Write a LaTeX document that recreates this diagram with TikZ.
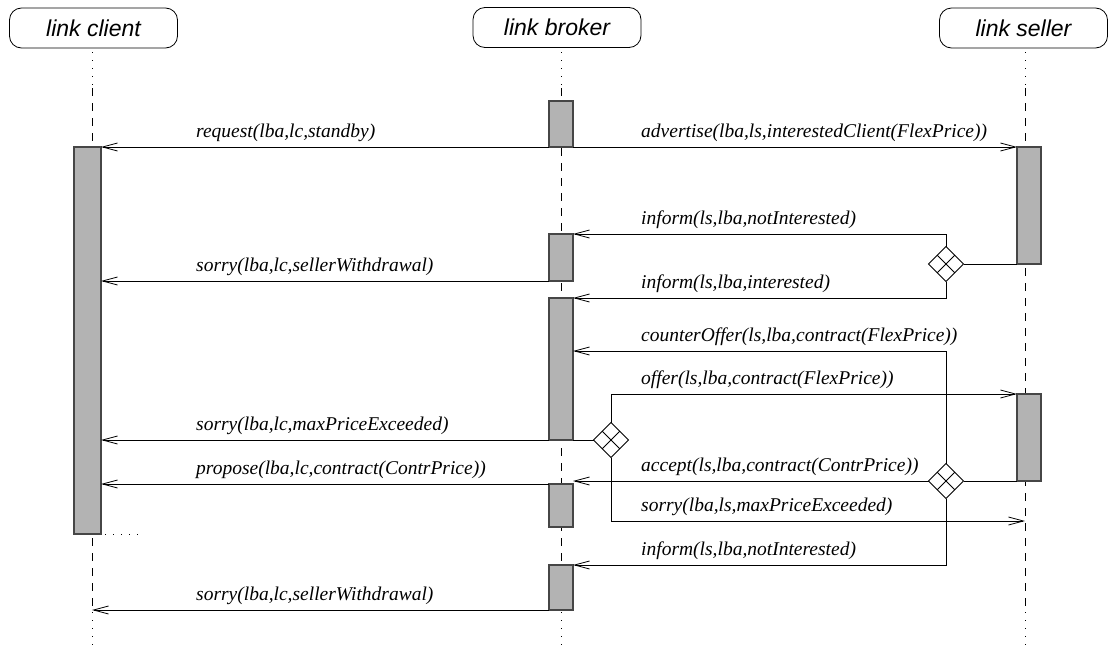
\documentclass[tikz,border=0pt]{standalone}
\usepackage{fontspec}
\setmainfont{Liberation Serif}
\setsansfont{Liberation Sans}
\newfontfamily\msgfont{Liberation Serif Italic}
\newfontfamily\headfont{Liberation Sans Italic}
\usetikzlibrary{arrows.meta,shapes.geometric,calc}
\definecolor{actfill}{RGB}{179,179,179}
\definecolor{actline}{RGB}{70,70,70}

\begin{document}
\begin{tikzpicture}[x=1pt,y=-1pt,
  head/.style={draw, line width=0.8pt, rounded corners=12pt, minimum width=168pt,
    minimum height=40pt, inner sep=0, font=\headfont\fontsize{23}{27}\selectfont},
  act/.style={draw=actline, fill=actfill, line width=1.1pt, minimum width=24pt,
    inner sep=0, outer sep=0, anchor=north},
  choice/.style={draw, diamond, minimum width=35pt, minimum height=35pt,
    inner sep=0, outer sep=0, fill=white, line width=0.8pt},
  msg/.style={line width=0.8pt, -{Straight Barb[length=15pt,width=8pt,line width=0.8pt]}},
  link/.style={line width=0.8pt},
  lbl/.style={anchor=base west, inner sep=0, font=\msgfont\fontsize{19.5}{23}\selectfont},
  life/.style={line width=0.8pt, dash pattern=on 8pt off 7pt},
  lifedot/.style={line width=0.8pt, dash pattern=on 1pt off 7pt},
]

\useasboundingbox (0,0) rectangle (1108,648);

% participants
\node[head] (hc) at (93.5,28) {link client};
\node[head] (hb) at (557,27.5) {link broker};
\node[head] (hs) at (1023.5,28) {link seller};

% lifelines: dotted, dashed while alive, dotted again
\foreach \n/\x in {c/92, b/561, s/1025} {
  \coordinate (top\n) at (\x,52);
  \coordinate (mid\n) at (\x,88);
  \coordinate (end\n) at (\x,612);
  \coordinate (bot\n) at (\x,648);
  \draw[lifedot] (top\n) -- (mid\n);
  \draw[life] (mid\n) -- (end\n);
  \draw[lifedot] (end\n) -- (bot\n);
}

% activation bars
\node[act, minimum width=27pt, minimum height=387pt] (C1) at (87.5,147) {};
\node[act, minimum height=46pt] (B1) at (561,101) {};
\node[act, minimum height=47pt] (B2) at (561,234) {};
\node[act, minimum height=142pt] (B3) at (561,298) {};
\node[act, minimum height=43pt] (B4) at (561,484) {};
\node[act, minimum height=45pt] (B5) at (561,565) {};
\node[act, minimum height=117pt] (S1) at (1029,147) {};
\node[act, minimum height=87pt] (S2) at (1029,394) {};

% client bar continues, dotted
\coordinate (cx) at (140,534);
\draw[lifedot, dash phase=4pt] (C1.south east) -- (cx);

% decision diamonds
\node[choice] (D1) at (946,264) {};
\node[choice] (D2) at (946,481) {};
\node[choice] (D3) at (611,440) {};
\foreach \d in {D1,D2,D3} {
  \draw[link] ($(\d.north)!.5!(\d.west)$) -- ($(\d.south)!.5!(\d.east)$);
  \draw[link] ($(\d.north)!.5!(\d.east)$) -- ($(\d.south)!.5!(\d.west)$);
}

% messages
\draw[msg] (B1.south west) -- (C1.north east);
\draw[msg] (B1.south east) -- (S1.north west);
\draw[link] (S1.south west) -- (D1.east);
\draw[msg] (D1.north) |- (B2.north east);
\draw[msg] (D1.south) |- (B3.north east);
\draw[msg] (B2.south west) -- (B2.south west -| C1.east);
\coordinate (co) at (946,351);
\draw[msg] (D2.north) -- (co) -- (co -| B3.east);
\draw[msg] (D3.north) |- (S2.north west);
\draw[link] (B3.south east) -- (D3.west);
\draw[msg] (B3.south west) -- (B3.south west -| C1.east);
\draw[link] (S2.south west) -- (D2.east);
\draw[msg] (D2.west) -- (D2.west -| B4.east);
\draw[msg] (B4.north west) -- (B4.north west -| C1.east);
\coordinate (sl) at (1025,521);
\draw[msg] (D3.south) |- (sl);
\draw[msg] (D2.south) |- (B5.north east);
\draw[msg] (B5.south west) -- (B5.south west -| botc);

% message labels
\node[lbl] (t1)  at (196,137) {request(lba,lc,standby)};
\node[lbl] (t2)  at (641,137) {advertise(lba,ls,interestedClient(FlexPrice))};
\node[lbl] (t3)  at (641,224) {inform(ls,lba,notInterested)};
\node[lbl] (t4)  at (196,271) {sorry(lba,lc,sellerWithdrawal)};
\node[lbl] (t5)  at (641,288) {inform(ls,lba,interested)};
\node[lbl] (t6)  at (641,341) {counterOffer(ls,lba,contract(FlexPrice))};
\node[lbl] (t7)  at (641,384) {offer(ls,lba,contract(FlexPrice))};
\node[lbl] (t8)  at (196,430) {sorry(lba,lc,maxPriceExceeded)};
\node[lbl] (t9)  at (641,471) {accept(ls,lba,contract(ContrPrice))};
\node[lbl] (t10) at (196,474) {propose(lba,lc,contract(ContrPrice))};
\node[lbl] (t11) at (641,511) {sorry(lba,ls,maxPriceExceeded)};
\node[lbl] (t12) at (641,555) {inform(ls,lba,notInterested)};
\node[lbl] (t13) at (196,600) {sorry(lba,lc,sellerWithdrawal)};

\end{tikzpicture}
\end{document}
